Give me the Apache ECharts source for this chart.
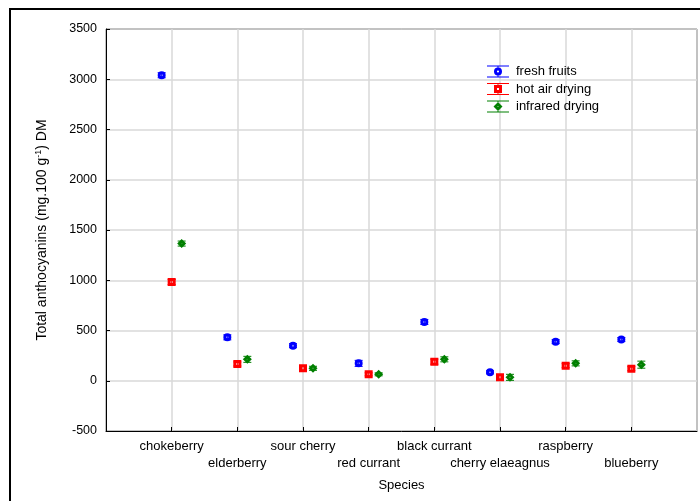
<!DOCTYPE html>
<html>
<head>
<meta charset="utf-8">
<script src="https://cdn.jsdelivr.net/npm/echarts@6/dist/echarts.min.js"></script>
<style>html,body{margin:0;padding:0;background:#fff}#c{width:700px;height:501px}</style>
</head>
<body>
<div id="c"></div>
<script>
var species = ['chokeberry','elderberry','sour cherry','red currant','black currant','cherry elaeagnus','raspberry','blueberry'];
var freshFruits = [3040, 432, 349, 173, 585, 84, 389, 410];
var hotAirDrying = [982, 167, 124, 64, 190, 34, 150, 120];
var infraredDrying = [1365, 213, 124, 64, 213, 34, 173, 160];
var freshErr = [25, 25, 20, 30, 25, 15, 20, 20];
var hotErr = [25, 20, 20, 15, 25, 25, 20, 20];
var irErr = [25, 30, 20, 15, 25, 30, 25, 35];
var yTicks = [-500, 0, 500, 1000, 1500, 2000, 2500, 3000, 3500];

var FONT = 'Arial, "Liberation Sans", sans-serif';
var chart = echarts.init(document.getElementById('c'), null, {renderer: 'canvas'});

function pts(vals, errs) {
  return vals.map(function (v, i) { return [i + 1, v, errs[i]]; });
}

function errSeries(name, vals, errs, color, dx) {
  return {
    type: 'custom',
    name: name,
    data: pts(vals, errs),
    z: 2,
    silent: true,
    renderItem: function (params, api) {
      var x = api.value(0), y = api.value(1), e = api.value(2);
      var top = api.coord([x, y + e]);
      var bot = api.coord([x, y - e]);
      var cx = top[0] + dx;
      var w = 4;
      var st = {stroke: color, lineWidth: 1};
      return {
        type: 'group',
        children: [
          {type: 'line', shape: {x1: cx, y1: top[1], x2: cx, y2: bot[1]}, style: st},
          {type: 'line', shape: {x1: cx - w, y1: top[1], x2: cx + w, y2: top[1]}, style: st},
          {type: 'line', shape: {x1: cx - w, y1: bot[1], x2: cx + w, y2: bot[1]}, style: st}
        ]
      };
    }
  };
}

var symCircle = 'path://M0,4A4,4 0 1,1 8,4A4,4 0 1,1 0,4Z M3,4A1,1 0 1,0 5,4A1,1 0 1,0 3,4Z';
var symSquare = 'path://M0,0H8V8H0Z M3,3V5H5V3Z';
var symDiamond = 'path://M4,0L8,4L4,8L0,4Z M3.4,4L4,4.6L4.6,4L4,3.4Z';

function scatter(name, vals, errs, color, symbol, size, dx) {
  return {
    type: 'scatter',
    name: name,
    data: pts(vals, errs),
    symbol: symbol,
    symbolSize: size,
    symbolOffset: [dx, 0],
    z: 3,
    itemStyle: {color: color, opacity: 1},
    emphasis: {disabled: true}
  };
}

var iconCircle = 'path://M0,0H22V1H0Z M0,11H22V12H0Z M10.5,0H11.5V2H10.5Z M10.5,10H11.5V12H10.5Z M7,6A4,4 0 1,1 15,6A4,4 0 1,1 7,6Z M9.9,6A1.1,1.1 0 1,0 12.1,6A1.1,1.1 0 1,0 9.9,6Z';
var iconSquare = 'path://M0,0H22V1H0Z M0,11H22V12H0Z M10.5,0H11.5V2H10.5Z M10.5,10H11.5V12H10.5Z M7,2H15V10H7Z M10,5V7H12V5Z';
var iconDiamond = 'path://M0,0H22V1H0Z M0,11H22V12H0Z M10.5,0H11.5V1.5H10.5Z M10.5,10.5H11.5V12H10.5Z M11,1.5L15.5,6L11,10.5L6.5,6Z M10.4,6L11,6.6L11.6,6L11,5.4Z';

var option = {
  backgroundColor: '#ffffff',
  animation: false,
  textStyle: {fontFamily: FONT},
  graphic: [{
    type: 'rect',
    shape: {x: 10, y: 9, width: 700, height: 500},
    style: {fill: 'none', stroke: '#000', lineWidth: 2},
    z: -10
  }],
  grid: {left: 106, right: 3, top: 29, bottom: 70, show: true, borderColor: '#000', borderWidth: 1, backgroundColor: 'transparent'},
  legend: {
    orient: 'vertical',
    left: 482,
    top: 60,
    itemWidth: 22,
    itemHeight: 12,
    itemGap: 4.5,
    textStyle: {fontSize: 13, color: '#000', fontFamily: FONT, padding: [0, 0, 0, 2]},
    selectedMode: false,
    data: [
      {name: 'fresh fruits', icon: iconCircle},
      {name: 'hot air drying', icon: iconSquare},
      {name: 'infrared drying', icon: iconDiamond}
    ]
  },
  xAxis: {
    type: 'value',
    min: 0,
    max: species.length + 1,
    interval: 1,
    name: 'Species',
    nameLocation: 'middle',
    nameGap: 48,
    nameTextStyle: {fontSize: 13, color: '#000', fontFamily: FONT},
    axisLine: {show: true, onZero: false, lineStyle: {color: '#000', width: 1}},
    axisTick: {show: true, inside: true, length: 4, lineStyle: {color: '#000'}},
    splitLine: {show: true, lineStyle: {color: '#d9d9d9', width: 1.5}},
    axisLabel: {
      fontSize: 13, color: '#000', fontFamily: FONT, margin: 7, lineHeight: 17,
      showMinLabel: false, showMaxLabel: false,
      formatter: function (v) {
        var i = Math.round(v) - 1;
        if (i < 0 || i >= species.length) return '';
        return (i % 2 === 0) ? species[i] : '\n' + species[i];
      }
    }
  },
  yAxis: {
    type: 'value',
    min: yTicks[0],
    max: yTicks[yTicks.length - 1],
    interval: yTicks[1] - yTicks[0],
    name: 'Total anthocyanins (mg.100 g{sup|-1}) DM',
    nameLocation: 'middle',
    nameGap: 56,
    nameTextStyle: {fontSize: 14, color: '#000', fontFamily: FONT,
      rich: {sup: {fontSize: 9, verticalAlign: 'top', padding: [0, 0, 7, 0], fontFamily: FONT, color: '#000'}}},
    axisLine: {show: true, onZero: false, lineStyle: {color: '#000', width: 1}},
    axisTick: {show: true, inside: true, length: 4, lineStyle: {color: '#000'}},
    splitLine: {show: true, lineStyle: {color: '#d9d9d9', width: 1.5}},
    axisLabel: {fontSize: 12.5, color: '#000', fontFamily: FONT, margin: 9,
      formatter: function (v) { return String(v); }}
  },
  series: [
    errSeries('e1', freshFruits, freshErr, '#0000ff', -10),
    errSeries('e2', hotAirDrying, hotErr, '#ff0000', 0),
    errSeries('e3', infraredDrying, irErr, '#008000', 10),
    scatter('fresh fruits', freshFruits, freshErr, '#0000ff', symCircle, 8, -10),
    scatter('hot air drying', hotAirDrying, hotErr, '#ff0000', symSquare, 8, 0),
    scatter('infrared drying', infraredDrying, irErr, '#008000', symDiamond, 9, 10)
  ]
};
chart.setOption(option);
</script>
</body>
</html>
